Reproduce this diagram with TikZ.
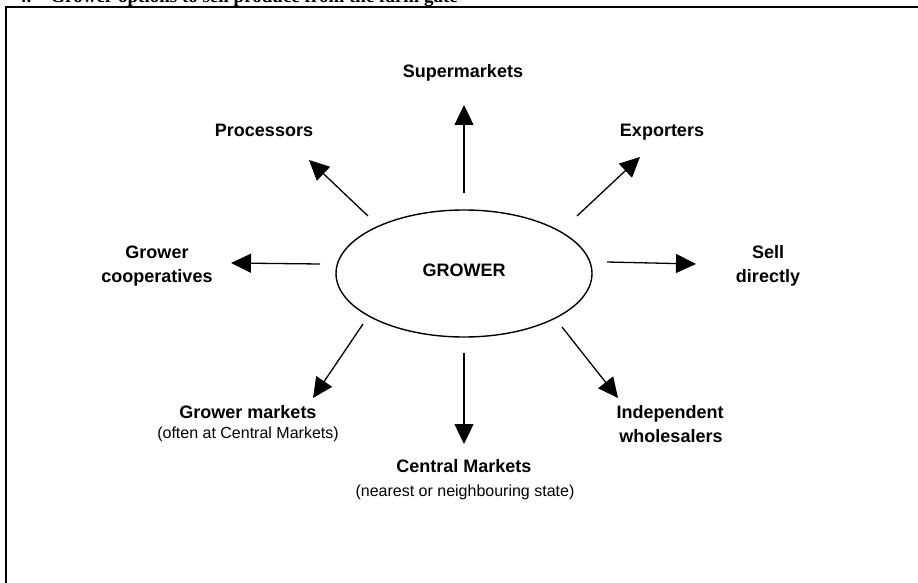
\documentclass[tikz,border=0pt]{standalone}
\usepackage{fontspec}
\setmainfont{Liberation Sans}
\newfontfamily\titlefont{Liberation Serif}
\usetikzlibrary{arrows.meta,shapes.geometric}
\begin{document}
\begin{tikzpicture}[x=1pt,y=-1pt,
  conn/.style={line width=1.3pt, -{Triangle[length=20pt,width=19pt]}},
  lbl/.style={font=\fontsize{18}{22}\selectfont\bfseries, anchor=base, inner sep=0pt},
  sub/.style={font=\fontsize{16}{20}\selectfont, anchor=base, inner sep=0pt},
  hub/.style={draw, ellipse, line width=1.4pt, minimum width=256pt, minimum height=127pt,
              inner sep=0pt, text depth=7pt, font=\fontsize{18}{22}\selectfont\bfseries},
]
\useasboundingbox (0,0) rectangle (918,583);

% heading of the page, cut by the top edge
\begin{scope}
  \clip (0,0) rectangle (918,583);
  \node[anchor=base west, inner sep=0pt,
        font=\titlefont\bfseries\fontsize{19}{23}\selectfont] (title) at (17,2.5)
        {4.\quad Grower options to sell produce from the farm gate};
\end{scope}

% frame
\draw[line width=1.3pt] (6,583) -- (6,7) -- (918,7);

% centre
\node[hub] (grower) at (464,273.5) {GROWER};

% outlets
\node[lbl] (super) at (463,78) {Supermarkets};
\node[lbl] (proc)  at (264,136) {Processors};
\node[lbl] (expo)  at (662,136) {Exporters};
\node[lbl] (coop1) at (157,258) {Grower};
\node[lbl] (coop2) at (157,282) {cooperatives};
\node[lbl] (sell1) at (768,258) {Sell};
\node[lbl] (sell2) at (768,282) {directly};
\node[lbl] (gm1)   at (248,418) {Grower markets};
\node[sub] (gm2)   at (248,438) {(often at Central Markets)};
\node[lbl] (cm1)   at (464,472) {Central Markets};
\node[sub] (cm2)   at (465,496) {(nearest or neighbouring state)};
\node[lbl] (ind1)  at (670,418) {Independent};
\node[lbl] (ind2)  at (671,442) {wholesalers};

% arrow ends
\coordinate (sS) at (464,193); \coordinate (sE) at (464,105);
\coordinate (pS) at (368,216); \coordinate (pE) at (309,160);
\coordinate (eS) at (577,216); \coordinate (eE) at (640,157);
\coordinate (cS) at (320,264); \coordinate (cE) at (231,263);
\coordinate (dS) at (607,262); \coordinate (dE) at (696,264);
\coordinate (gS) at (363,324); \coordinate (gE) at (313,398);
\coordinate (mS) at (464,353); \coordinate (mE) at (464,444);
\coordinate (iS) at (562,327); \coordinate (iE) at (618,398);

\draw[conn] (sS) -- (sE);
\draw[conn] (pS) -- (pE);
\draw[conn] (eS) -- (eE);
\draw[conn] (cS) -- (cE);
\draw[conn] (dS) -- (dE);
\draw[conn] (gS) -- (gE);
\draw[conn] (mS) -- (mE);
\draw[conn] (iS) -- (iE);
\end{tikzpicture}
\end{document}
